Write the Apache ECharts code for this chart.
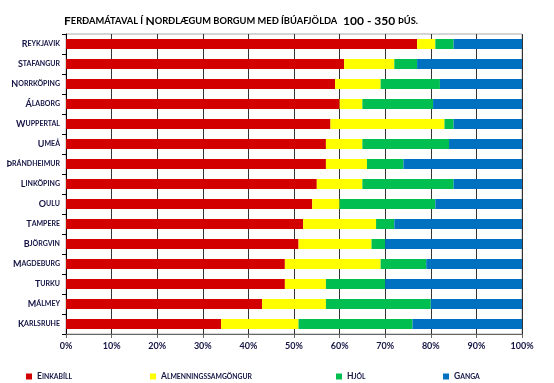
<!DOCTYPE html>
<html><head><meta charset="utf-8">
<script src="https://cdn.jsdelivr.net/npm/echarts@6/dist/echarts.min.js"></script>
<style>html,body{margin:0;padding:0;background:#fff}#c{width:554px;height:383px}</style>
</head><body><div id="c"></div>
<script>
var cities = ['Reykjavik','Stafangur','Norrköping','Álaborg','Wuppertal','Umeå','Þrándheimur','Linköping','Oulu','Tampere','Björgvin','Magdeburg','Turku','Málmey','Karlsruhe'];
var einkabill = [77,61,59,60,58,57,57,55,54,52,51,48,48,43,34];
var almenn    = [4,11,10,5,25,8,9,10,6,16,16,21,9,14,17];
var hjol      = [4,5,13,15.5,2,19,8,20,21,4,3,10,13,23,25];
var ganga     = [15,23,18,19.5,15,16,26,15,19,28,30,21,30,20,24];
var seriesNames = ['Einkabíll','Almenningssamgöngur','Hjól','Ganga'];
var xTicks = [0,10,20,30,40,50,60,70,80,90,100];

var FONT = 'Lato, "DejaVu Sans", sans-serif';
var NAVY = '#141445';
function sc(s){ // small caps rich string
  var out = '';
  var parts = s.split(/(\s+)/);
  parts.forEach(function(w){
    if (/^\s+$/.test(w)) { out += '{s|' + w + '}'; return; }
    var i = 0;
    while (i < w.length) {
      var ch = w[i];
      var isUp = ch !== ch.toLowerCase() || /[0-9\-]/.test(ch);
      var j = i;
      while (j < w.length) {
        var c = w[j];
        var u = c !== c.toLowerCase() || /[0-9\-]/.test(c);
        if (u !== isUp) break;
        j++;
      }
      var seg = w.slice(i, j);
      out += (isUp ? '{b|' + seg + '}' : '{s|' + seg.toUpperCase() + '}');
      i = j;
    }
  });
  return out;
}
var colors = ['#D20000','#FFFF00','#00BF50','#0070C0'];
var vals = [einkabill, almenn, hjol, ganga];
var chart = echarts.init(document.getElementById('c'), null, {renderer:'canvas'});
var legendLeft = [21, 145, 331, 438];
var richSmall = {b:{fontFamily:FONT,fontWeight:'bold',fontSize:9,color:NAVY}, s:{fontFamily:FONT,fontWeight:'bold',fontSize:7,color:NAVY}};
var richLegend = {b:{fontFamily:FONT,fontWeight:'bold',fontSize:8.5,color:NAVY}, s:{fontFamily:FONT,fontWeight:'bold',fontSize:6.8,color:NAVY}};
chart.setOption({
  animation:false,
  title:{
    text: sc('Ferðamátaval í Norðlægum borgum með íbúafjölda') + '{b|  100 - 350 }' + '{s|ÞÚS.}',
    left: 59, top: 10,
    textStyle:{rich:{b:{fontFamily:FONT,fontWeight:'bold',fontSize:12,color:'#000'}, s:{fontFamily:FONT,fontWeight:'bold',fontSize:9.3,color:'#000'}}}
  },
  legend: seriesNames.map(function(n,i){
    return {data:[n], left: legendLeft[i], top: 367, icon:'rect', itemWidth:6, itemHeight:6, itemGap:4,
      formatter: function(name){ return sc(name); },
      textStyle:{rich:richLegend}};
  }),
  grid:{left:66, right:32, top:34, bottom:49, show:true, borderColor:'#aaa', borderWidth:1},
  xAxis:{type:'value', min:0, max:100, interval:10,
    axisLine:{show:true, lineStyle:{color:'#666'}},
    axisTick:{show:true, length:4, lineStyle:{color:'#666'}},
    axisLabel:{formatter:function(v){return v+'%';}, fontFamily:FONT, fontWeight:'bold', fontSize:9, color:NAVY, margin:8},
    splitLine:{show:true, lineStyle:{color:'#333', width:1}}
  },
  yAxis:{type:'category', data:cities, inverse:true,
    axisLine:{show:true, lineStyle:{color:'#000'}},
    axisTick:{show:true, length:4, lineStyle:{color:'#000'}},
    axisLabel:{margin:6, formatter:function(v){return sc(v);}, rich:richSmall}
  },
  series: seriesNames.map(function(n,i){
    return {name:n, type:'bar', stack:'t', data:vals[i], barWidth:10, itemStyle:{color:colors[i]}};
  })
});
</script></body></html>
